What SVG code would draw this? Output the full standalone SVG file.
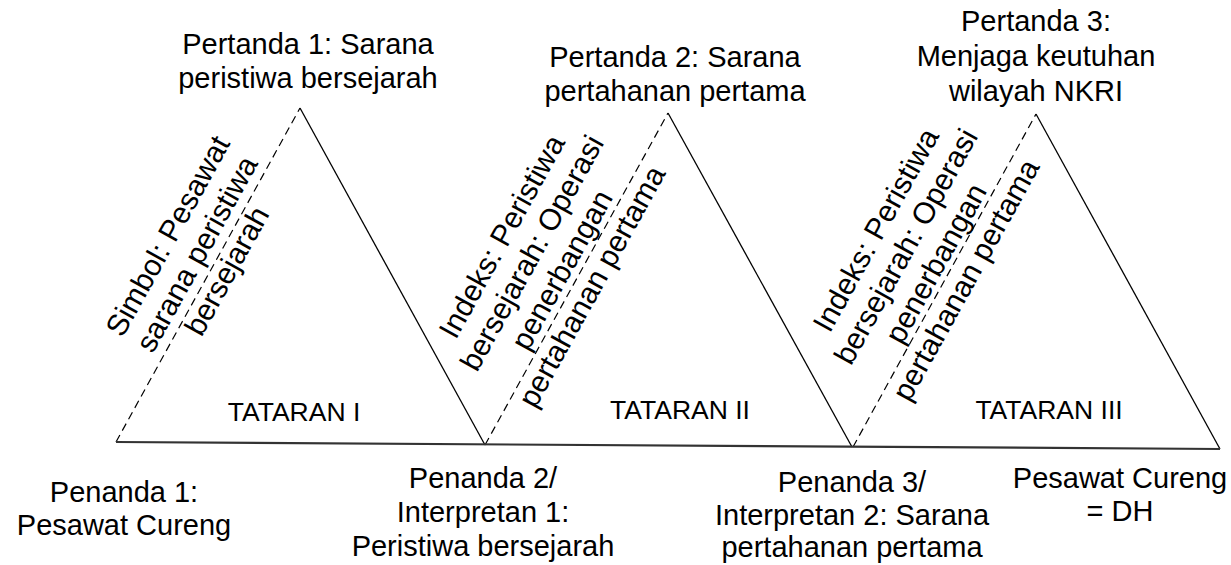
<svg xmlns="http://www.w3.org/2000/svg" width="1231" height="565" viewBox="0 0 1231 565">
<style>
  .t { font-family: "Liberation Sans", Arial, sans-serif; font-size: 29px; fill: #000; text-anchor: middle; }
  .r { font-family: "Liberation Sans", Arial, sans-serif; font-size: 30px; fill: #000; text-anchor: middle; }
  .lv { font-family: "Liberation Sans", Arial, sans-serif; font-size: 26.5px; fill: #000; text-anchor: middle; }
  .solid { stroke: #000; stroke-width: 1.3; fill: none; }
  .dash { stroke: #000; stroke-width: 1.2; fill: none; stroke-dasharray: 8 5; }
  .base { stroke: #333; stroke-width: 2.2; fill: none; }
</style>
<rect width="1231" height="565" fill="#fff"/>

<g id="connectors">
  <line class="dash" x1="116" y1="442" x2="300" y2="108"/>
  <line class="solid" x1="300" y1="108" x2="485" y2="445"/>
  <line class="dash" x1="485" y1="445" x2="668" y2="113"/>
  <line class="solid" x1="668" y1="113" x2="852" y2="447"/>
  <line class="dash" x1="853" y1="447" x2="1036" y2="114"/>
  <line class="solid" x1="1036" y1="114" x2="1220" y2="449"/>
  <line class="base" x1="116" y1="442" x2="1220" y2="449"/>
</g>

<g id="tataran1"><text class="lv" x="294" y="421">TATARAN I</text></g>
<g id="tataran2"><text class="lv" x="680" y="419">TATARAN II</text></g>
<g id="tataran3"><text class="lv" x="1049" y="419">TATARAN III</text></g>

<g id="pertanda1">
  <text class="t" x="308" y="54">Pertanda 1: Sarana</text>
  <text class="t" x="308" y="88">peristiwa bersejarah</text>
</g>
<g id="pertanda2">
  <text class="t" x="675" y="67">Pertanda 2: Sarana</text>
  <text class="t" x="675" y="101">pertahanan pertama</text>
</g>
<g id="pertanda3">
  <text class="t" x="1036" y="31">Pertanda 3:</text>
  <text class="t" x="1036" y="66">Menjaga keutuhan</text>
  <text class="t" x="1036" y="101">wilayah NKRI</text>
</g>

<g id="simbol">
  <text class="r" transform="translate(168,236) rotate(-61)" y="10">Simbol: Pesawat</text>
  <text class="r" transform="translate(197,254) rotate(-61)" y="10">sarana peristiwa</text>
  <text class="r" transform="translate(227,271) rotate(-61)" y="10">bersejarah</text>
</g>
<g id="indeks1">
  <text class="r" transform="translate(502,236.5) rotate(-61)" y="10">Indeks: Peristiwa</text>
  <text class="r" transform="translate(532,253) rotate(-61)" y="10">bersejarah: Operasi</text>
  <text class="r" transform="translate(562,270) rotate(-61)" y="10">penerbangan</text>
  <text class="r" transform="translate(592,286.5) rotate(-61)" y="10">pertahanan pertama</text>
</g>
<g id="indeks2">
  <text class="r" transform="translate(876,230) rotate(-61)" y="10">Indeks: Peristiwa</text>
  <text class="r" transform="translate(906,246.5) rotate(-61)" y="10">bersejarah: Operasi</text>
  <text class="r" transform="translate(936,263.5) rotate(-61)" y="10">penerbangan</text>
  <text class="r" transform="translate(966,280) rotate(-61)" y="10">pertahanan pertama</text>
</g>

<g id="penanda1">
  <text class="t" x="124" y="502">Penanda 1:</text>
  <text class="t" x="124" y="535">Pesawat Cureng</text>
</g>
<g id="penanda2">
  <text class="t" x="483" y="488">Penanda 2/</text>
  <text class="t" x="483" y="522">Interpretan 1:</text>
  <text class="t" x="483" y="556">Peristiwa bersejarah</text>
</g>
<g id="penanda3">
  <text class="t" x="852" y="492">Penanda 3/</text>
  <text class="t" x="852" y="525">Interpretan 2: Sarana</text>
  <text class="t" x="852" y="557">pertahanan pertama</text>
</g>
<g id="dh">
  <text class="t" x="1120" y="488">Pesawat Cureng</text>
  <text class="t" x="1120" y="521">= DH</text>
</g>
</svg>
